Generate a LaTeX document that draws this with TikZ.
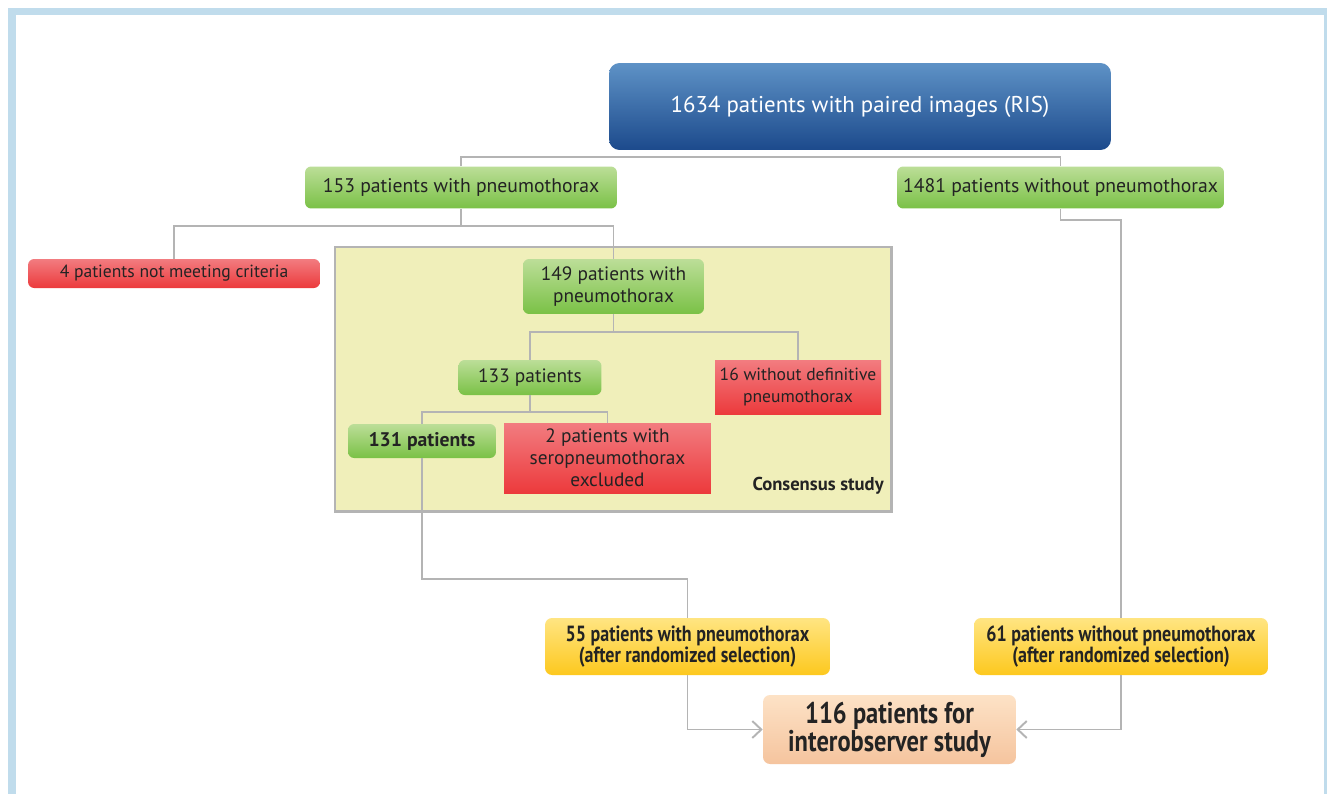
\documentclass[tikz,border=0pt]{standalone}
\usepackage{fontspec}
\setmainfont{PT Sans}
\usetikzlibrary{arrows.meta, positioning, calc}
\definecolor{ptframe}{RGB}{192,220,236}
\definecolor{ptdark}{RGB}{35,35,35}
\definecolor{ptline}{RGB}{180,180,180}
\definecolor{ptcons}{RGB}{240,239,186}
\definecolor{ptbluelt}{RGB}{94,146,198}
\definecolor{ptblue}{RGB}{28,74,140}
\definecolor{ptgreenlt}{RGB}{188,222,152}
\definecolor{ptgreen}{RGB}{122,193,70}
\definecolor{ptredlt}{RGB}{242,124,128}
\definecolor{ptred}{RGB}{236,58,60}
\definecolor{ptyellowlt}{RGB}{255,229,130}
\definecolor{ptyellow}{RGB}{253,200,30}
\definecolor{ptpeachlt}{RGB}{253,226,198}
\definecolor{ptpeach}{RGB}{245,196,158}
\newcommand{\slim}[1]{\scalebox{0.82}[1]{#1}}

\begin{document}
\begin{tikzpicture}[
  x=0.02cm, y=-0.02cm,
  every node/.style={font=\fontsize{11}{12.5}\selectfont, align=center, text=ptdark, inner sep=0pt},
  gbox/.style={rounded corners=3.5pt, top color=ptgreenlt, bottom color=ptgreen},
  rbox/.style={top color=ptredlt, bottom color=ptred},
  ybox/.style={rounded corners=4pt, top color=ptyellowlt, bottom color=ptyellow,
    font=\fontsize{12.5}{12}\selectfont\bfseries},
  link/.style={draw=ptline, line width=1.1pt},
  arr/.style={link, -{Straight Barb[length=1.8mm, width=3.4mm]}}
]
\useasboundingbox (0,0) rectangle (1327,794);
% page frame
\fill[ptframe] (8,8) rectangle (1327,794);
\fill[white] (16,15) rectangle (1324,794);
% consensus study area
\draw[ptline, line width=1.7pt, fill=ptcons] (335,247) rectangle (891,511);

\node[rounded corners=6pt, top color=ptbluelt, bottom color=ptblue, text=white,
  font=\fontsize{13}{14}\selectfont, minimum width=10.04cm, minimum height=1.74cm]
  (total) at (860,106.5) {1634 patients with paired images (RIS)};
\node[gbox, minimum width=6.24cm, minimum height=0.84cm, font=\fontsize{11.2}{12.5}\selectfont] (ptx) at (461,187.5) {153 patients with pneumothorax};
\node[gbox, minimum width=6.54cm, minimum height=0.84cm, font=\fontsize{11.2}{12.5}\selectfont] (noptx) at (1060.5,187.5) {1481 patients without pneumothorax};
\node[rbox, rounded corners=3.5pt, minimum width=5.84cm, minimum height=0.58cm, font=\fontsize{10}{12}\selectfont] (crit) at (174,273.5) {4 patients not meeting criteria};
\node[gbox, minimum width=3.62cm, minimum height=1.10cm] (ptx149) at (613.5,286.5) {149 patients with\\pneumothorax};
\node[gbox, minimum width=2.86cm, minimum height=0.70cm] (ptx133) at (530,377.5) {133 patients};
\node[rbox, minimum width=3.32cm, minimum height=1.08cm, font=\fontsize{10}{12}\selectfont] (nodef) at (798,387) {16 without definitive\\pneumothorax};
\node[gbox, minimum width=2.96cm, minimum height=0.68cm, font=\fontsize{11.2}{12}\selectfont\bfseries] (ptx131) at (422,441) {131 patients};
\node[rbox, minimum width=4.14cm, minimum height=1.40cm] (sero) at (607.5,458) {2 patients with\\seropneumothorax\\excluded};
\node[anchor=east, font=\fontsize{10.6}{12}\selectfont\bfseries] (cons) at (884,486) {Consensus study};
\node[ybox, minimum width=5.70cm, minimum height=1.14cm] (sel55) at (687.5,646.5)
  {\slim{55 patients with pneumothorax}\\\slim{(after randomized selection)}};
\node[ybox, minimum width=5.88cm, minimum height=1.14cm] (sel61) at (1121,646.5)
  {\slim{61 patients without pneumothorax}\\\slim{(after randomized selection)}};
\node[rounded corners=4pt, top color=ptpeachlt, bottom color=ptpeach,
  font=\fontsize{17}{16}\selectfont\bfseries, minimum width=5.06cm, minimum height=1.38cm]
  (inter) at (889.5,729.5) {\slim{116 patients for}\\\slim{interobserver study}};

% connectors
\draw[link] (ptx.north) |- ([yshift=-0.14cm]total.south) -| (noptx.north);
\draw[link] (ptx.south) -- ++(0,17) coordinate (j1);
\draw[link] (crit.north) |- (j1) -| (ptx149.north);
\draw[link] (ptx149.south) -- ++(0,18) coordinate (j2);
\draw[link] (ptx133.north) |- (j2) -| (nodef.north);
\draw[link] (ptx133.south) -- ++(0,17) coordinate (j3);
\draw[link] (ptx131.north) |- (j3) -| (sero.north);
\draw[link] (ptx131.south) -- ++(0,121) -| (sel55.north);
\draw[link] (noptx.south) -- ++(0,11) -| (sel61.north);
\draw[arr] (sel55.south) |- (inter.west);
\draw[arr] (sel61.south) |- (inter.east);
\end{tikzpicture}
\end{document}
